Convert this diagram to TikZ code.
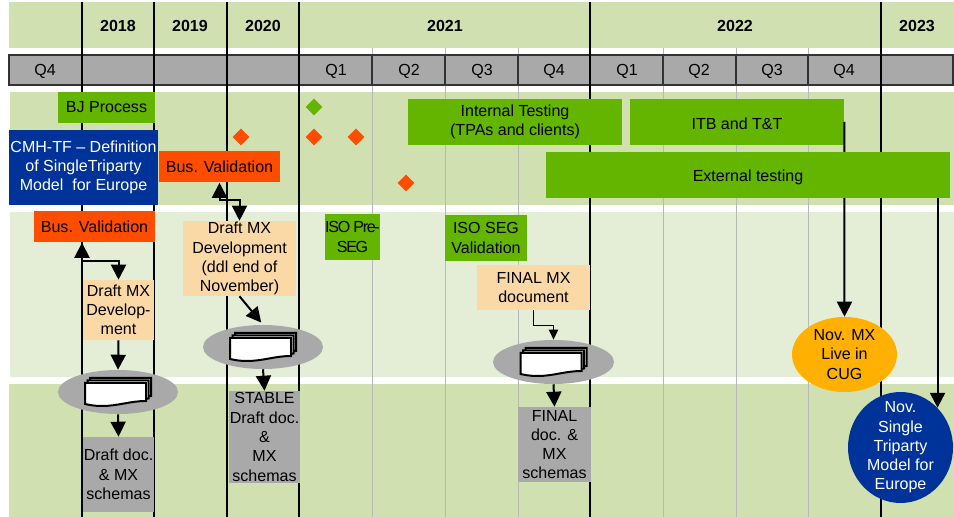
\documentclass[tikz,border=0pt]{standalone}
\usepackage{fontspec}
\setmainfont{Liberation Sans}
\usetikzlibrary{arrows.meta,shapes.geometric}
\definecolor{banddark}{HTML}{D0E0B0}
\definecolor{bandlight}{HTML}{E4EDD6}
\definecolor{bargray}{HTML}{A9A9A9}
\definecolor{taskgreen}{HTML}{63B500}
\definecolor{valorange}{HTML}{FF4D00}
\definecolor{draftpeach}{HTML}{FBD9A6}
\definecolor{modelblue}{HTML}{003399}
\definecolor{liveamber}{HTML}{FFB000}
\tikzset{
  >={Triangle[length=3.75mm,width=3.75mm]},
  boxsize/.style 2 args={minimum width=#1*0.025cm,minimum height=#2*0.025cm},
  taskbox/.style={rectangle,inner sep=0pt,align=center,fill=#1},
  milestone/.style={diamond,inner sep=0pt,minimum width=0.42cm,minimum height=0.42cm,fill=#1},
  round task/.style={ellipse,inner sep=0pt,align=center,fill=#1},
  text down/.style={execute at begin node={\rule{0pt}{11pt}}},
  flow/.style={line width=0.05cm},
  small flow/.style={line width=0.035cm,-{Triangle[length=2.5mm,width=2.3mm]}},
  yearline/.style={line width=0.05cm,black},
  quarterline/.style={line width=0.025cm,black!28},
  docstack/.pic={
    \foreach \d in {5,2.5,0} {
      \draw[line width=0.05cm,fill=white,shift={(\d,-\d)}] (-33,-9) -- (28,-9) -- (28,9)
        .. controls (12,9) and (0,14) .. (-16,14) .. controls (-24,14) and (-28,13) .. (-33,12) -- cycle;
    }
  }
}
\begin{document}
\begin{tikzpicture}[x=0.025cm,y=-0.025cm,font=\fontsize{11.4}{13.7}\selectfont]
  \useasboundingbox (0,0) rectangle (954,517);
  % bands
  \fill[banddark] (9,2) rectangle (954,48);
  \fill[banddark] (10,92) rectangle (954,205);
  \fill[bandlight] (10,212) rectangle (954,377);
  \fill[banddark] (9,384) rectangle (954,517);
  \foreach \x in {372,445,518,663,736,808} {
    \draw[quarterline] (\x,48) -- (\x,517);
  }
  % quarter bar
  \draw[fill=bargray,draw=black!80,line width=0.035cm] (9,55) rectangle (953,85);
  \foreach \x in {372,445,518,663,736,808} {
    \draw[black!80,line width=0.035cm] (\x,55) -- (\x,85);
  }
  \foreach \x in {82,154,227,299,590,881} {
    \coordinate (yr\x) at (\x,2);
    \draw[yearline] (yr\x) -- (\x,517);
  }
  \foreach \x/\q in {45/Q4,336/Q1,409/Q2,482/Q3,554/Q4,627/Q1,699/Q2,772/Q3,844/Q4} {
    \node (lab\x) at (\x,71) {\q};
  }
  \foreach \x/\y in {118/2018,190/2019,263/2020,445/2021,735/2022,917/2023} {
    \node[font=\fontsize{11.4}{13.7}\selectfont\bfseries] (year\y) at (\x,26) {\y};
  }
  % milestones
  \node[milestone=taskgreen] (msg) at (314,107) {};
  \node[milestone=valorange] (msa) at (241,137) {};
  \node[milestone=valorange] (msb) at (314,137) {};
  \node[milestone=valorange] (msc) at (356,137) {};
  \node[milestone=valorange] (msd) at (406,183) {};
  % tasks
  \node[taskbox=taskgreen,boxsize={97}{31}] (bj) at (106.5,107.5) {BJ Process};
  \node[taskbox=modelblue,text=white,boxsize={149}{75}] (cmh) at (83.5,167.5) {CMH-TF -- Definition\\of SingleTriparty\\Model\ \ for Europe};
  \node[taskbox=valorange,boxsize={121}{31}] (busb) at (219.5,167) {Bus. Validation};
  \node[taskbox=valorange,boxsize={121}{31}] (busa) at (94.5,227) {Bus. Validation};
  \node[taskbox=draftpeach,boxsize={71}{60}] (drafta) at (118.5,310) {Draft MX\\Develop-\\ment};
  \node[taskbox=draftpeach,text down,boxsize={113}{75}] (draftb) at (239.5,258.5) {Draft MX\\Development\\(ddl end of\\November)};
  \node[taskbox=draftpeach,boxsize={113}{45}] (finalmx) at (533.5,287.5) {FINAL MX\\document};
  \node[taskbox=bargray,boxsize={71}{75}] (doca) at (118.5,474.5) {Draft doc.\\\& MX\\schemas};
  \node[taskbox=bargray,boxsize={71}{92}] (stable) at (264.5,437) {STABLE\\Draft doc.\\\&\\MX\\schemas};
  \node[taskbox=bargray,boxsize={73}{75}] (finaldoc) at (554.5,444.5) {FINAL\\doc. \&\\MX\\schemas};
  \node[taskbox=taskgreen,text down,boxsize={214}{46}] (intern) at (515,122) {Internal Testing\\(TPAs and clients)};
  \node[taskbox=taskgreen,text down,boxsize={214}{46}] (itb) at (737,122) {ITB and T\&T};
  \node[taskbox=taskgreen,boxsize={53}{46}] (isopre) at (352.5,237) {\addfontfeature{LetterSpace=-8}ISO Pre-\\\addfontfeature{LetterSpace=-8}SEG};
  \node[taskbox=taskgreen,text down,boxsize={82}{46}] (isoseg) at (486,238) {ISO SEG\\Validation};
  % document stacks
  \node[round task=bargray,boxsize={120}{44}] (stacka) at (118,392) {};
  \node[round task=bargray,boxsize={120}{44}] (stackb) at (263,347) {};
  \node[round task=bargray,boxsize={121}{44}] (stackc) at (553.5,362) {};
  \pic at (stacka.center) {docstack};
  \pic at (stackb.center) {docstack};
  \pic at (stackc.center) {docstack};
  % go-live
  \node[round task=liveamber,text down,inner ysep=-0.09cm,boxsize={105}{75}] (novmx) at (844.5,354.5) {Nov. MX\\Live in\\CUG};
  \node[round task=modelblue,text=white,text down,inner ysep=-0.2cm,boxsize={105}{111}] (novsingle) at (900.5,447.5) {Nov.\\Single\\Triparty\\Model for\\Europe};
  \draw[flow,->] (itb.east) -- (novmx.north);
  \node[taskbox=taskgreen,text down,boxsize={404}{46}] (ext) at (748,175) {External testing};
  \draw[flow,->] (novsingle.47.5 |- ext.south) -- (novsingle.47.5);
  % flows
  \draw[flow,<->] (busa.south -| yr82) -- ++(0,18) -| (drafta.north);
  \draw[flow,<->] (busb.south) -- ++(0,17) -| (draftb.north);
  \draw[flow,->] (drafta.south) -- (stacka.north);
  \draw[flow,->] (stacka.south) -- (doca.north);
  \draw[flow,->,shorten >=2pt] (draftb.south) -- (stackb.north);
  \draw[flow,->] (stackb.south) -- (stable.north);
  \draw[small flow] (finalmx.south) -- ++(0,15) -| (stackc.north);
  \draw[flow,->] (stackc.south) -- (finaldoc.north);
\end{tikzpicture}
\end{document}
